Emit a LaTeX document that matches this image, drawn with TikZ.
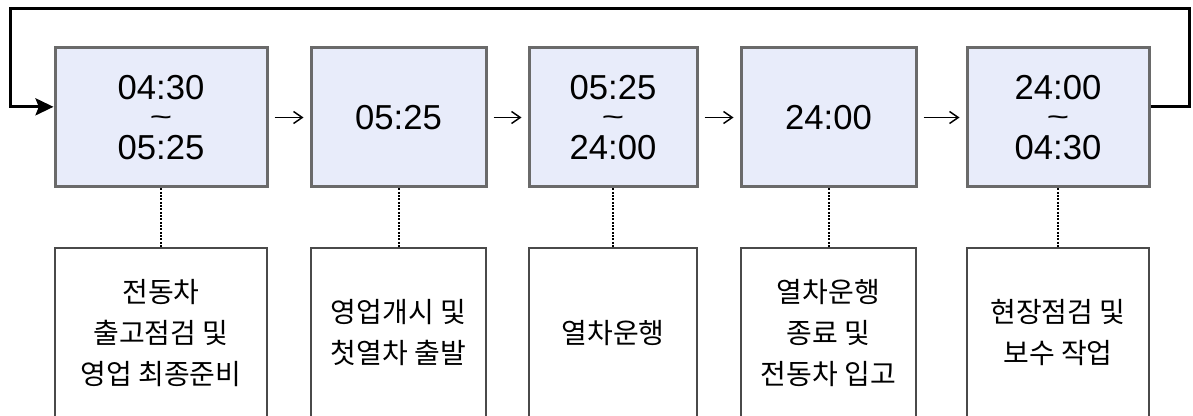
\documentclass[tikz,border=0pt]{standalone}
\usepackage{fontspec}
\setmainfont{Liberation Sans}
\newfontfamily\krfont{Noto Sans CJK KR}
\usetikzlibrary{arrows.meta}
\definecolor{tbfill}{HTML}{E8ECFA}
\definecolor{tbline}{HTML}{6A6A6A}
\definecolor{dbline}{HTML}{4A4A4A}
\newcommand{\tld}{\scalebox{2}[1]{\fontsize{14}{14}\bfseries\selectfont\textasciitilde}}
\newcommand{\tspan}[2]{#1\\\tld\\[8.4pt]#2}
\tikzset{
  tbox/.style={rectangle,draw=tbline,line width=2.25pt,fill=tbfill,inner sep=0pt,
               minimum height=104.25pt,align=center,font=\fontsize{26}{18.3}\selectfont},
  dbox/.style={rectangle,draw=dbline,line width=0.9pt,fill=white,inner sep=0pt,
               minimum height=127.5pt,align=center,font=\krfont\fontsize{21}{30.75}\selectfont},
  nx/.style={-{Straight Barb[length=6.5pt,width=9pt]},line width=1.1pt,
             shorten >=4.5pt,shorten <=4.5pt},
  lk/.style={densely dotted,line width=1.5pt},
  every picture/.style={line cap=butt,line join=miter}}
\begin{document}
\begin{tikzpicture}[x=0.75pt,y=-0.75pt]
  \useasboundingbox (0,0) rectangle (1193,416);
  \clip (0,0) rectangle (1193,416);
  % time slots
  \node[tbox,minimum width=159pt] (t1) at (161,117.5){\tspan{04:30}{05:25}};
  \node[tbox,minimum width=131.25pt] (t2) at (398.5,117.5){05:25};
  \node[tbox,minimum width=126pt] (t3) at (613,117.5){\tspan{05:25}{24:00}};
  \node[tbox,minimum width=131.25pt] (t4) at (828.5,117.5){24:00};
  \node[tbox,minimum width=136.5pt] (t5) at (1058,117.5){\tspan{24:00}{04:30}};
  % tasks
  \node[dbox,minimum width=159pt] (b1) at (161,333){전동차\\출고점검 및\\영업 최종준비};
  \node[dbox,minimum width=131.25pt] (b2) at (398.5,333){영업개시 및\\첫열차 출발};
  \node[dbox,minimum width=126pt] (b3) at (613,333){열차운행};
  \node[dbox,minimum width=131.25pt] (b4) at (828.5,333){열차운행\\종료 및\\전동차 입고};
  \node[dbox,minimum width=136.5pt] (b5) at (1058,333){현장점검 및\\보수 작업};
  \draw[nx] (t1)--(t2); \draw[nx] (t2)--(t3); \draw[nx] (t3)--(t4); \draw[nx] (t4)--(t5);
  \draw[lk] (t1.south)--(b1.north) (t2.south)--(b2.north) (t3.south)--(b3.north)
            (t4.south)--(b4.north) (t5.south)--(b5.north);
  % loop back to the start
  \coordinate (lpR) at (1189,9);\coordinate (lpL) at (10,9);
  \draw[line width=2.25pt,-{Stealth[length=13.5pt,width=12.75pt,inset=2.5pt]}]
    ([yshift=8pt]t5.east) -| (lpR) -- (lpL) |- ([yshift=8pt]t1.west);
\end{tikzpicture}
\end{document}
